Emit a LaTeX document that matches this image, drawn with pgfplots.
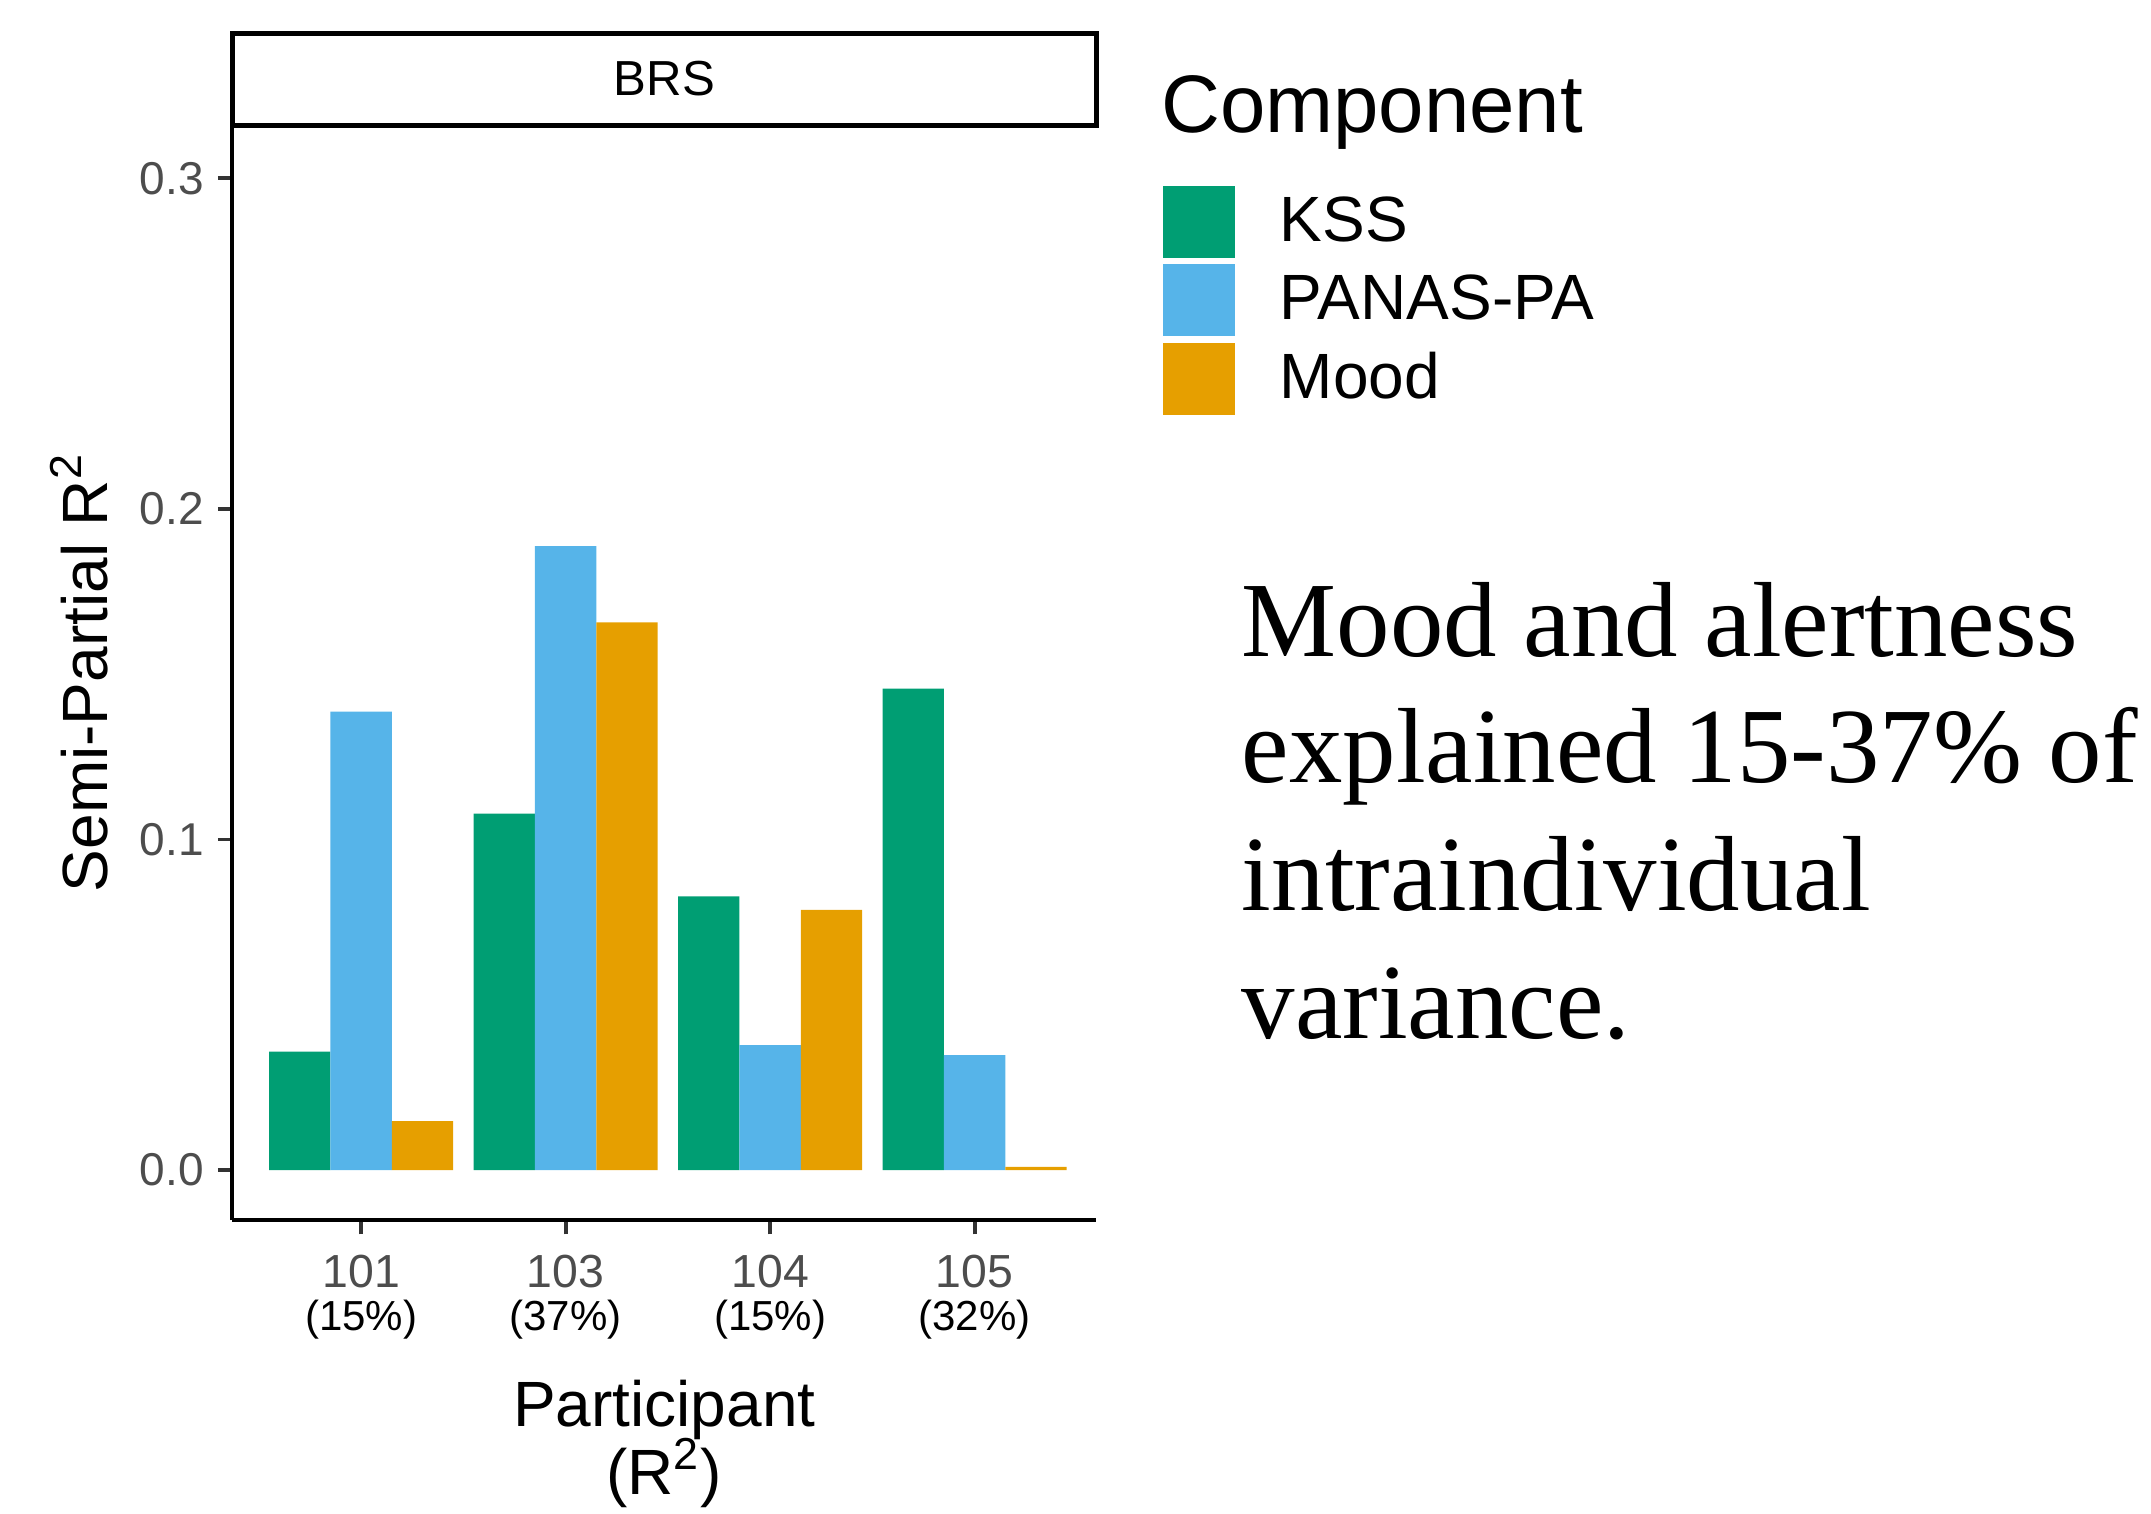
\documentclass[border=0pt]{standalone}
\usepackage{pgfplots}
\pgfplotsset{compat=1.18}
\usepackage{fontspec}
\setmainfont{Liberation Sans}
\newfontfamily\seriffont{Liberation Serif}
\definecolor{kss}{HTML}{009E73}
\definecolor{panas}{HTML}{56B4E9}
\definecolor{mood}{HTML}{E69F00}
\definecolor{tickgray}{HTML}{4D4D4D}
\definecolor{tickline}{HTML}{333333}
\pgfplotsset{sqlegend/.style={legend image code/.code={\fill[##1] (0pt,-9pt) rectangle (18pt,9pt);}}}
\begin{document}
\begin{tikzpicture}
\useasboundingbox (-58.075pt,-73.25pt) rectangle (479.675pt,305pt);
\begin{axis}[
  name=ax,
  scale only axis, width=216pt, height=273.75pt,
  xmin=0.37, xmax=4.595, ymin=-0.0151, ymax=0.3161,
  axis x line*=bottom, axis y line*=left,
  axis line style={line width=1pt, black},
  ybar, bar width=0.3,
  tick align=outside, major tick length=3.6pt,
  tick style={line width=0.95pt, tickline},
  xtick={1,2,3,4},
  xticklabels={
    {\textcolor{tickgray}{101}\\{\fontsize{10.5}{10.75}\selectfont (15\%)}},
    {\textcolor{tickgray}{103}\\{\fontsize{10.5}{10.75}\selectfont (37\%)}},
    {\textcolor{tickgray}{104}\\{\fontsize{10.5}{10.75}\selectfont (15\%)}},
    {\textcolor{tickgray}{105}\\{\fontsize{10.5}{10.75}\selectfont (32\%)}}},
  xticklabel style={align=center, font=\fontsize{11.6}{10.75}\selectfont, yshift=-1.7pt},
  ytick={0,0.1,0.2,0.3},
  yticklabel style={font=\fontsize{11.5}{13}\selectfont, text=tickgray,
    /pgf/number format/fixed, /pgf/number format/fixed zerofill,
    /pgf/number format/precision=1},
  /pgf/number format/assume math mode=true,
  scaled y ticks=false,
  every axis y label/.style={at={(axis description cs:-0.145,0.5)}, rotate=90, anchor=base, font=\fontsize{16}{19}\selectfont},
  ylabel={Semi-Partial R\textsuperscript{2}},
  every axis x label/.style={at={(axis description cs:0.5,-0.2511)}, anchor=base, align=center, font=\fontsize{16}{17}\selectfont},
  xlabel={Participant\\(R\smash{\textsuperscript{2}})},
  legend style={at={(axis description cs:1.076,0.9452)}, anchor=north west, draw=none, fill=none,
    inner sep=0pt, row sep=1.6pt, font=\fontsize{16}{19}\selectfont,
    /tikz/every odd column/.style={column sep=9.3pt}},
  legend cell align=left,
  clip=false,
]
\addplot[fill=kss, draw=none, bar shift=-0.3, sqlegend] coordinates {(1,0.0358) (2,0.1078) (3,0.0828) (4,0.1456)};
\addplot[fill=panas, draw=none, bar shift=0, sqlegend] coordinates {(1,0.1387) (2,0.1887) (3,0.0378) (4,0.0348)};
\addplot[fill=mood, draw=none, bar shift=0.3, sqlegend] coordinates {(1,0.0148) (2,0.1657) (3,0.0787) (4,0.001)};
\legend{KSS, PANAS-PA, Mood}
\end{axis}
\draw[line width=1.25pt, fill=white] (ax.north west) rectangle ([yshift=23pt]ax.north east);
\node[font=\fontsize{12.3}{14}\selectfont] at ([yshift=11.5pt]ax.north) {BRS};
\node[anchor=base west, inner sep=0pt, font=\fontsize{20.4}{24}\selectfont] at (232pt,271.8pt) {Component};
\begin{scope}[every node/.style={anchor=base west, inner sep=0pt, font=\seriffont\fontsize{26.7}{31.75}\selectfont}]
\node at (252.2pt,141pt) {Mood and alertness};
\node at (252.2pt,109.5pt) {explained 15-37\% of};
\node at (252.2pt,77.5pt) {intraindividual};
\node at (252.2pt,45.5pt) {variance.};
\end{scope}
\end{tikzpicture}
\end{document}
